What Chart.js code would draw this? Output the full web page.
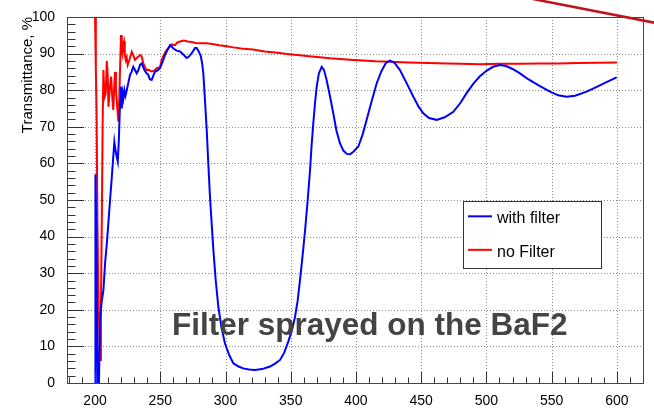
<!DOCTYPE html>
<html>
<head>
<meta charset="utf-8">
<script src="https://cdn.jsdelivr.net/npm/chart.js@4.4.1/dist/chart.umd.min.js"></script>
<style>
html,body{margin:0;padding:0;background:#fff;}
#wrap{width:654px;height:410px;}
</style>
</head>
<body>
<div id="wrap"><canvas id="c" width="654" height="410"></canvas></div>
<script>
// ---- data ----
const wlFilter = [200.0,200.3,201.0,202.0,203.0,203.8,205.0,206.4,207.7,209.0,210.2,211.5,212.8,214.0,214.8,215.5,216.5,217.4,218.2,219.2,219.8,220.5,221.2,221.7,222.5,223.3,224.3,225.5,226.8,228.0,229.3,230.6,231.9,233.2,234.5,235.8,237.8,239.5,240.8,242.0,243.4,244.7,246.0,247.5,249.8,251.5,253.6,255.5,257.5,259.0,260.0,262.6,265.1,267.5,270.2,272.0,274.1,276.6,277.9,279.2,281.0,282.0,283.0,284.3,285.6,286.8,288.1,289.4,290.7,292.5,294.5,297.0,299.6,303.0,306.0,310.0,313.6,318.0,322.6,328.0,334.1,338.0,341.8,345.0,348.1,351.0,353.3,355.3,357.1,359.0,361.0,363.0,364.8,366.0,367.3,368.6,369.9,371.5,373.7,375.5,377.5,380.0,382.6,385.0,387.7,390.3,393.0,395.5,398.0,401.8,405.0,408.2,412.0,415.9,419.5,423.0,426.1,429.5,433.7,439.0,444.0,448.0,451.6,456.0,461.8,468.0,474.6,480.0,484.8,490.0,495.0,500.0,505.0,510.3,515.0,520.0,525.7,532.0,540.0,548.7,555.0,561.5,568.0,576.8,585.0,592.0,599.8];
const tFilter = [0,57,40,0,0,17,22,25.4,32.8,38,43.7,50,56,62,65.9,64,62,60.5,66,77,81,75,79,77.8,80,78.5,80,82,84.2,85,86.4,85.5,84.6,85.5,86.9,87.3,85.5,84.6,84.2,83,82.8,84,85.1,85.3,86,87.5,89.6,91,92.3,91.8,91.4,90.8,90.6,89.8,88.8,89.2,90.1,91.5,91.5,90.8,89.4,87.5,84.6,77,69.1,60,50.9,43.5,36.3,28,20.8,15,10.8,7.5,5.4,4.5,4.0,3.7,3.55,3.8,4.5,5.3,6.3,8.3,11.3,14.5,18.1,22.5,28.1,34.5,41.8,50,58.2,65,71,76.5,81,84.5,86.4,85.5,82.8,78.5,73.7,69,65.5,63.5,62.6,62.5,63.2,64.6,67.8,71.9,77,81.9,85.2,87.5,88.1,87.5,85.5,81.8,78.2,75.5,73.7,72.4,71.9,72.6,74.1,76.5,79.2,81.8,83.8,85.3,86.4,86.9,86.6,85.8,84.6,83,81.3,79.6,78.6,78.2,78.5,79.6,81,82.2,83.5];

const wlNoFilter = [200.0,200.6,201.2,201.8,202.5,203.2,203.8,204.5,205.2,205.8,206.4,207.2,208.2,209.0,209.7,210.3,211.2,212.3,213.2,214.0,214.7,215.3,216.0,216.6,217.3,217.9,218.6,219.2,219.9,220.5,221.0,221.6,222.2,222.8,223.5,224.2,225.0,226.5,228.1,229.4,230.6,232.5,234.5,235.8,237.0,238.4,239.6,241.5,243.4,245.4,247.3,249.8,251.1,253.0,255.0,257.5,259.0,261.3,263.0,265.1,268.0,271.0,274.0,277.0,280.5,285.0,290.0,295.0,301.0,306.0,312.0,321.0,330.0,340.0,347.0,355.0,364.0,372.4,380.0,388.0,395.4,405.0,415.0,426.0,440.0,455.0,470.0,480.0,495.0,510.0,525.0,540.0,555.0,570.0,585.0,600.0];
const tNoFilter = [100,86,72.8,45,25,15,6.3,20,45,70,85.5,78,79.2,88,84,75.5,80,83.7,78,74.6,81,85,80,77.3,74,71.4,78,86.4,95.1,91,90,92.5,93.3,90,88.3,89,86.9,88.5,90.5,89.5,88.3,89,89.6,89.2,87.3,86.2,85.5,85.5,85.1,85.3,86,86.3,88.3,89.8,91,92,92.5,92.3,93,93.3,93.6,93.3,93.2,92.9,92.8,92.8,92.6,92.3,92.0,91.7,91.4,91.1,90.6,90.2,89.9,89.6,89.3,89.0,88.7,88.5,88.3,88.1,87.9,87.8,87.6,87.4,87.3,87.2,87.1,87.2,87.2,87.3,87.3,87.4,87.5,87.6];

const seriesLabels = ['with filter', 'no Filter'];
const xTickLabels = [200,250,300,350,400,450,500,550,600];
const yTickLabels = [0,10,20,30,40,50,60,70,80,90,100];
const xMinorTicks = [180,190,200,210,220,230,240,250,260,270,280,290,300,310,320,330,340,350,360,370,380,390,400,410,420,430,440,450,460,470,480,490,500,510,520,530,540,550,560,570,580,590,600,610];
const yMinorTicks = [0,2,4,6,8,10,12,14,16,18,20,22,24,26,28,30,32,34,36,38,40,42,44,46,48,50,52,54,56,58,60,62,64,66,68,70,72,74,76,78,80,82,84,86,88,90,92,94,96,98,100];
const yTitle = 'Transmittance, %';
const noteText = 'Filter sprayed on the BaF2';
const noteAt = {x: 259, y: 13.1};

const FONT = '"Liberation Sans", Arial, Helvetica, sans-serif';

const toPts = (xs, ys) => xs.map((v, i) => ({x: v, y: ys[i]}));

const decor = {
  id: 'decor',
  beforeDatasetsDraw(chart) {
    const {ctx, chartArea: a, scales: {x, y}} = chart;
    ctx.save();
    ctx.strokeStyle = '#8c8c8c';
    ctx.lineWidth = 1;
    ctx.setLineDash([1, 2]);
    xTickLabels.forEach(v => {
      const p = Math.round(x.getPixelForValue(v)) + 0.5;
      ctx.beginPath(); ctx.moveTo(p, a.top); ctx.lineTo(p, a.bottom); ctx.stroke();
    });
    yTickLabels.forEach(v => {
      if (v === 0 || v === 100) return;
      const p = Math.round(y.getPixelForValue(v)) + 0.5;
      ctx.beginPath(); ctx.moveTo(a.left, p); ctx.lineTo(a.right, p); ctx.stroke();
    });
    ctx.restore();
  },
  afterDatasetsDraw(chart) {
    const {ctx, chartArea: a, scales: {x, y}} = chart;
    ctx.save();
    ctx.setLineDash([]);
    ctx.strokeStyle = '#333';
    ctx.lineWidth = 1;
    xMinorTicks.forEach(v => {
      const p = Math.round(x.getPixelForValue(v)) + 0.5;
      if (p < a.left || p > a.right) return;
      const len = (v % 50 === 0) ? 11 : 5.5;
      ctx.beginPath(); ctx.moveTo(p, a.bottom); ctx.lineTo(p, a.bottom - len); ctx.stroke();
    });
    yMinorTicks.forEach(v => {
      const p = Math.round(y.getPixelForValue(v)) + 0.5;
      const len = (v % 10 === 0) ? 17 : 8.5;
      ctx.beginPath(); ctx.moveTo(a.left, p); ctx.lineTo(a.left + len, p); ctx.stroke();
    });
    ctx.strokeStyle = '#444';
    ctx.strokeRect(Math.round(a.left) + 0.5, Math.round(a.top) + 0.5, Math.round(a.right - a.left), Math.round(a.bottom - a.top));

    const lx0 = a.left + 0.6875 * (a.right - a.left);
    const lx1 = a.left + 0.927 * (a.right - a.left);
    const ly0 = a.top + 0.503 * (a.bottom - a.top);
    const ly1 = a.top + 0.686 * (a.bottom - a.top);
    ctx.fillStyle = '#fff';
    ctx.fillRect(lx0, ly0, lx1 - lx0, ly1 - ly0);
    ctx.strokeStyle = '#333';
    ctx.strokeRect(Math.round(lx0) + 0.5, Math.round(ly0) + 0.5, Math.round(lx1 - lx0), Math.round(ly1 - ly0));
    const rows = [0.25, 0.75];
    chart.data.datasets.forEach((ds, i) => {
      const cy = ly0 + rows[i] * (ly1 - ly0);
      ctx.strokeStyle = ds.borderColor;
      ctx.lineWidth = 2;
      ctx.beginPath(); ctx.moveTo(lx0 + 5, cy - 1.5); ctx.lineTo(lx0 + 29, cy - 1.5); ctx.stroke();
      ctx.fillStyle = '#000';
      ctx.font = '16px ' + FONT;
      ctx.textAlign = 'left';
      ctx.textBaseline = 'alphabetic';
      ctx.fillText(ds.label, lx0 + 34, cy + 5.5);
    });

    ctx.fillStyle = '#444';
    ctx.font = 'bold 31.5px ' + FONT;
    ctx.textAlign = 'left';
    ctx.textBaseline = 'alphabetic';
    ctx.fillText(noteText, x.getPixelForValue(noteAt.x), y.getPixelForValue(noteAt.y));
    ctx.restore();
  },
  afterDraw(chart) {
    const {ctx} = chart;
    ctx.save();
    ctx.strokeStyle = '#c0141b';
    ctx.lineWidth = 2.5;
    ctx.beginPath(); ctx.moveTo(533, -1); ctx.lineTo(656, 23); ctx.stroke();
    ctx.restore();
  }
};

new Chart(document.getElementById('c'), {
  type: 'line',
  data: {
    datasets: [
      {label: seriesLabels[0], data: toPts(wlFilter, tFilter), borderColor: '#0000ff', borderWidth: 2, pointRadius: 0, tension: 0, fill: false},
      {label: seriesLabels[1], data: toPts(wlNoFilter, tNoFilter), borderColor: '#ff0000', borderWidth: 2, pointRadius: 0, tension: 0, fill: false}
    ]
  },
  options: {
    responsive: false,
    animation: false,
    devicePixelRatio: 1,
    layout: {padding: {top: 17, right: 11, left: 0, bottom: 0}},
    plugins: {legend: {display: false}, tooltip: {enabled: false}},
    scales: {
      x: {
        type: 'linear', min: 178.5, max: 620, bounds: 'data',
        afterBuildTicks: s => { s.ticks = xTickLabels.map(v => ({value: v})); },
        afterFit: s => { s.height = 27; },
        ticks: {autoSkip: false, maxRotation: 0, padding: 2, color: '#000', font: {size: 14, family: FONT}, callback: v => String(v)},
        grid: {display: false},
        border: {display: false}
      },
      y: {
        type: 'linear', min: 0, max: 100, bounds: 'data',
        afterBuildTicks: s => { s.ticks = yTickLabels.map(v => ({value: v})); },
        afterFit: s => { s.width = 67; },
        ticks: {autoSkip: false, padding: 4, color: '#000', font: {size: 14, family: FONT}, callback: v => String(v)},
        grid: {display: false},
        border: {display: false},
        title: {display: true, text: yTitle, align: 'end', color: '#000', font: {size: 15, family: FONT}, padding: {top: 19, bottom: 0}}
      }
    }
  },
  plugins: [decor]
});
</script>
</body>
</html>
